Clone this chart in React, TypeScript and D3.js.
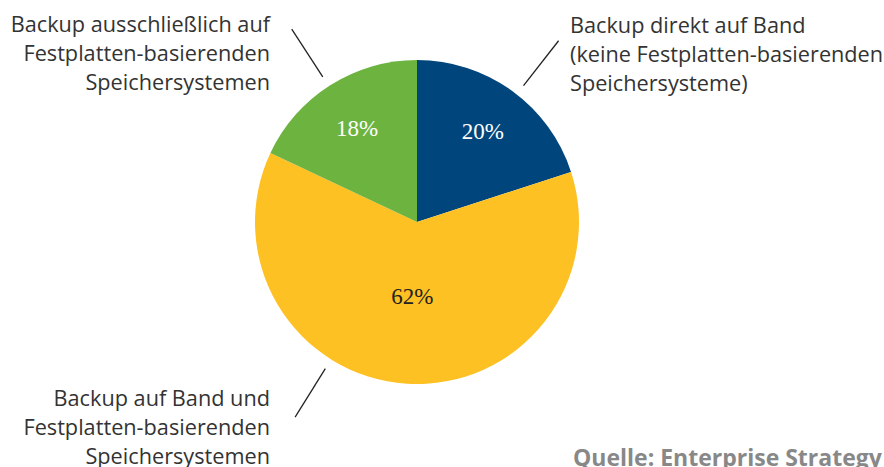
import React from "react";
import * as d3 from "d3";

const categories = [
  "Backup direkt auf Band (keine Festplatten-basierenden Speichersysteme)",
  "Backup auf Band und Festplatten-basierenden Speichersystemen",
  "Backup ausschließlich auf Festplatten-basierenden Speichersystemen",
];
const values = [20, 62, 18];
const percentLabels = ["20%", "62%", "18%"];
const labelLines = [
  ["Backup direkt auf Band", "(keine Festplatten-basierenden", "Speichersysteme)"],
  ["Backup auf Band und", "Festplatten-basierenden", "Speichersystemen"],
  ["Backup ausschließlich auf", "Festplatten-basierenden", "Speichersystemen"],
];
const sourceText = "Quelle: Enterprise Strategy Group";

const W = 884;
const H = 467;
const CX = 417;
const CY = 222;
const R = 162;
const colors = ["#00467C", "#FEC123", "#6DB33F"];
const pctColors = ["#ffffff", "#222222", "#ffffff"];
const pctRadius = [112, 74, 112];
const leaderAngles = [38, 212, 327];
const textAnchors = [
  { x: 570, y: 33, anchor: "start" },
  { x: 270, y: 406, anchor: "end" },
  { x: 270, y: 32, anchor: "end" },
];

export default function App() {
  const pie = d3.pie<number>().sort(null).value((d) => d)(values);
  const arc = d3.arc<d3.PieArcDatum<number>>().innerRadius(0).outerRadius(R);
  const rad = (deg: number) => (deg * Math.PI) / 180;
  return (
    <svg
      width={W}
      height={H}
      style={{ position: "absolute", left: 0, top: 0, background: "#fff" }}
      fontFamily="'Open Sans', sans-serif"
    >
      <g transform={`translate(${CX},${CY})`}>
        {pie.map((p, i) => (
          <path key={categories[i]} d={arc(p) || ""} fill={colors[i]} />
        ))}
        {pie.map((p, i) => {
          const la = d3.arc<d3.PieArcDatum<number>>().innerRadius(pctRadius[i]).outerRadius(pctRadius[i]);
          const [x, y] = la.centroid(p);
          return (
            <text
              key={"p" + i}
              x={x}
              y={y}
              dy="0.35em"
              textAnchor="middle"
              fontFamily="'Liberation Serif', 'Times New Roman', serif"
              fontSize={23}
              fill={pctColors[i]}
            >
              {percentLabels[i]}
            </text>
          );
        })}
        {leaderAngles.map((a, i) => {
          const r1 = 173;
          const r2 = 230;
          return (
            <line
              key={"l" + i}
              x1={r1 * Math.sin(rad(a))}
              y1={-r1 * Math.cos(rad(a))}
              x2={r2 * Math.sin(rad(a))}
              y2={-r2 * Math.cos(rad(a))}
              stroke="#222"
              strokeWidth={1.3}
            />
          );
        })}
      </g>
      {labelLines.map((lines, i) => (
        <text
          key={"t" + i}
          x={textAnchors[i].x}
          y={textAnchors[i].y}
          textAnchor={textAnchors[i].anchor as any}
          fontSize={21.7}
          fill="#333"
        >
          {lines.map((ln, j) => (
            <tspan key={j} x={textAnchors[i].x} dy={j === 0 ? 0 : 29}>
              {ln}
            </tspan>
          ))}
        </text>
      ))}
      <text x={573} y={466} fontSize={23} fontWeight="bold" fill="#888">
        {sourceText}
      </text>
    </svg>
  );
}
